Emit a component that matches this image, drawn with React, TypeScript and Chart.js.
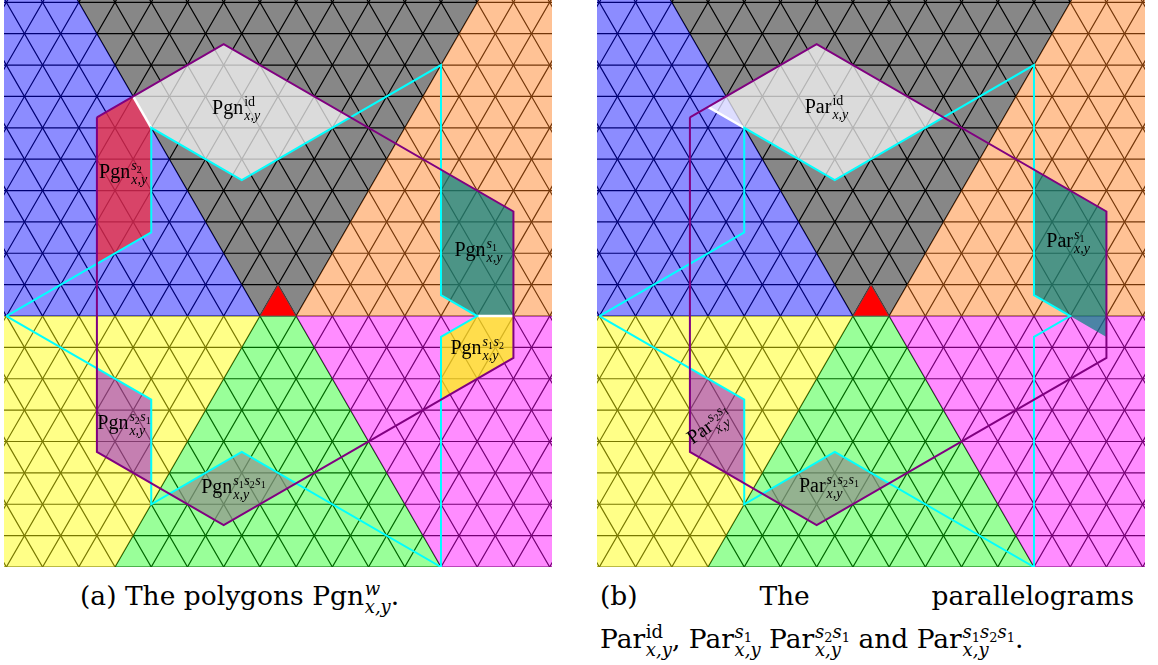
import React, { useEffect, useRef } from "react";
import { Chart, registerables } from "chart.js";

Chart.register(...registerables);

type P = [number, number];

// Coordinates: x in triangle-edge units, y in lattice-row units, origin = centre of the base of the red alcove.
const X_HALF = 7.565;
const Y_MIN = -8.0;
const Y_MAX = 10.073;

// horizontal lattice rows
const latticeRows: number[] = [-8, -7, -6, -5, -4, -3, -2, -1, 0, 1, 2, 3, 4, 5, 6, 7, 8, 9, 10];
// odd offsets c of the slanted lattice lines y = ±2x + c
const diagOffsets: number[] = [];
for (let c = -27; c <= 27; c += 2) diagOffsets.push(c);

// Weyl chambers (sectors)
const sectorGray: P[] = [[-0.5, 0], [0.5, 0], [6, 11], [-6, 11]];
const sectorBlue: P[] = [[-0.5, 0], [-6, 11], [-9, 11], [-9, 0]];
const sectorOrange: P[] = [[0.5, 0], [9, 0], [9, 11], [6, 11]];
const sectorGreen: P[] = [[-0.5, 0], [0.5, 0], [5, -9], [-5, -9]];
const sectorYellow: P[] = [[-9, 0], [-0.5, 0], [-5, -9], [-9, -9]];
const sectorMagenta: P[] = [[0.5, 0], [9, 0], [9, -9], [5, -9]];
const alcove: P[] = [[-0.5, 0], [0.5, 0], [0, 1]];

// cyan and purple paths (same in both panels)
const cyanPath: P[] = [
  [-7.5, 0], [-3.5, 2.667], [-3.5, 6], [-1, 4.333], [4.5, 8], [4.5, 0.667], [5.5, 0],
  [4.5, -0.667], [4.5, -8], [-1, -4.333], [-3.5, -6], [-3.5, -2.667], [-7.5, 0],
];
const purplePath: P[] = [
  [-5, 6.333], [-1.5, 8.667], [6.5, 3.333], [6.5, -1.333], [-1.5, -6.667], [-5, -4.333], [-5, 6.333],
];

// panel (a): polygons Pgn^w
const pgnId: P[] = [[-4, 7], [-1.5, 8.667], [2, 6.333], [-1, 4.333], [-3.5, 6]];
const pgnS2: P[] = [[-5, 6.333], [-4, 7], [-3.5, 6], [-3.5, 2.667], [-5, 1.667]];
const pgnS1: P[] = [[4.5, 4.667], [6.5, 3.333], [6.5, 0], [5.5, 0], [4.5, 0.667]];
const pgnS1S2: P[] = [[5.5, 0], [6.5, 0], [6.5, -1.333], [4.5, -2.667], [4.5, -0.667]];
const pgnS2S1: P[] = [[-5, -1.667], [-3.5, -2.667], [-3.5, -5.333], [-5, -4.333]];
const pgnS1S2S1: P[] = [[-3, -5.667], [-1, -4.333], [0.5, -5.333], [-1.5, -6.667]];
const whiteA1: P[] = [[-4, 7], [-3.5, 6]];
const whiteA2: P[] = [[5.5, 0], [6.5, 0]];

// panel (b): parallelograms Par^w
const parId: P[] = [[-4.5, 6.667], [-1.5, 8.667], [2, 6.333], [-1, 4.333]];
const parS1: P[] = [[4.5, 4.667], [6.5, 3.333], [6.5, -0.667], [4.5, 0.667]];
const parS2S1: P[] = [[-5, -1.667], [-3.5, -2.667], [-3.5, -5.333], [-5, -4.333]];
const parS1S2S1: P[] = [[-3, -5.667], [-1, -4.333], [0.5, -5.333], [-1.5, -6.667]];
const whiteB1: P[] = [[-4.5, 6.667], [-3.5, 6]];

type Label = { at: P; base: string; sup: string; rot?: number };
const labelsA: Label[] = [
  { at: [-1.82, 6.45], base: "Pgn", sup: "id" },
  { at: [-4.94, 4.39], base: "Pgn", sup: "s2" },
  { at: [4.87, 1.91], base: "Pgn", sup: "s1" },
  { at: [4.76, -1.21], base: "Pgn", sup: "s1s2" },
  { at: [-4.99, -3.61], base: "Pgn", sup: "s2s1" },
  { at: [-2.12, -5.63], base: "Pgn", sup: "s1s2s1" },
];
const labelsB: Label[] = [
  { at: [-1.83, 6.46], base: "Par", sup: "id" },
  { at: [4.84, 2.21], base: "Par", sup: "s1" },
  { at: [-4.93, -4.1], base: "Par", sup: "s2s1", rot: -35 },
  { at: [-1.99, -5.6], base: "Par", sup: "s1s2s1" },
];

const SERIF = '"Liberation Serif", "DejaVu Serif", serif';
const CAPSERIF = '"DejaVu Serif", "Liberation Serif", serif';

const toXY = (a: P[]) => a.map(([x, y]) => ({ x, y }));

function strokeDs(a: P[], color: string, width: number) {
  return {
    data: toXY(a),
    borderColor: color,
    borderWidth: width,
    backgroundColor: "rgba(0,0,0,0)",
    fill: false,
    pointRadius: 0,
    tension: 0,
    borderJoinStyle: "miter",
    borderCapStyle: "butt",
  };
}

function polyDs(a: P[], color: string, border = "rgba(0,0,0,0)", bw = 0) {
  return {
    data: toXY([...a, a[0]]),
    borderColor: border,
    borderWidth: bw,
    backgroundColor: color,
    fill: "shape",
    pointRadius: 0,
    tension: 0,
  };
}

function latticeSets() {
  const h: any[] = [];
  for (const k of latticeRows) h.push({ x: -9, y: k }, { x: 9, y: k }, { x: null, y: null });
  const p: any[] = [];
  const m: any[] = [];
  for (const c of diagOffsets) {
    p.push({ x: (-9 - c) / 2, y: -9 }, { x: (11 - c) / 2, y: 11 }, { x: null, y: null });
    m.push({ x: (c + 9) / 2, y: -9 }, { x: (c - 11) / 2, y: 11 }, { x: null, y: null });
  }
  const mk = (d: any[]) => ({
    data: d,
    borderColor: "#000",
    borderWidth: 1.2,
    fill: false,
    pointRadius: 0,
    spanGaps: false,
    tension: 0,
  });
  return [mk(h), mk(p), mk(m)];
}

function baseSets() {
  return [
    ...latticeSets(),
    polyDs(sectorGray, "rgba(0,0,0,0.47)"),
    polyDs(sectorBlue, "rgba(0,0,255,0.45)"),
    polyDs(sectorOrange, "rgba(255,120,20,0.45)"),
    polyDs(sectorGreen, "rgba(0,255,0,0.4)"),
    polyDs(sectorYellow, "rgba(255,255,0,0.47)"),
    polyDs(sectorMagenta, "rgba(255,0,255,0.45)"),
    polyDs(alcove, "#ff0000", "rgba(90,90,90,0.8)", 1),
  ];
}

function drawMath(ctx: CanvasRenderingContext2D, px: number, py: number, L: Label) {
  ctx.save();
  ctx.translate(px, py);
  ctx.rotate(((L.rot || 0) * Math.PI) / 180);
  ctx.fillStyle = "#000";
  ctx.textAlign = "left";
  ctx.textBaseline = "alphabetic";
  ctx.font = `20px ${SERIF}`;
  ctx.fillText(L.base, 0, 0);
  const x0 = ctx.measureText(L.base).width + 1;
  let x = x0;
  const supY = -8;
  if (L.sup === "id") {
    ctx.font = `14px ${SERIF}`;
    ctx.fillText("id", x, supY);
  } else {
    const parts = L.sup.match(/s\d/g) || [];
    for (const part of parts) {
      ctx.font = `italic 14px ${SERIF}`;
      ctx.fillText("s", x, supY);
      x += ctx.measureText("s").width;
      ctx.font = `10px ${SERIF}`;
      ctx.fillText(part[1], x, supY + 3);
      x += ctx.measureText(part[1]).width + 0.5;
    }
  }
  ctx.font = `italic 14px ${SERIF}`;
  ctx.fillText("x,y", x0, 6);
  ctx.restore();
}

function Panel({ left, sets, labels }: { left: number; sets: any[]; labels: Label[] }) {
  const ref = useRef<HTMLCanvasElement | null>(null);
  useEffect(() => {
    if (!ref.current) return;
    const labelPlugin = {
      id: "mathLabels",
      afterDatasetsDraw(chart: any) {
        const { ctx, scales } = chart;
        for (const L of labels) {
          drawMath(ctx, scales.x.getPixelForValue(L.at[0]), scales.y.getPixelForValue(L.at[1]), L);
        }
      },
    };
    const chart = new Chart(ref.current, {
      type: "line",
      data: { datasets: [...sets].reverse() as any },
      options: {
        responsive: false,
        animation: false,
        devicePixelRatio: 1,
        events: [],
        layout: { padding: 0 },
        plugins: { legend: { display: false }, tooltip: { enabled: false } },
        scales: {
          x: { type: "linear", min: -X_HALF, max: X_HALF, display: false, bounds: "data" },
          y: { type: "linear", min: Y_MIN, max: Y_MAX, display: false, bounds: "data" },
        },
      } as any,
      plugins: [labelPlugin],
    });
    return () => chart.destroy();
  }, []);
  return (
    <canvas
      ref={ref}
      width={548}
      height={567}
      style={{ position: "absolute", left, top: 0, width: 548, height: 567 }}
    />
  );
}

function S({ d }: { d: string }) {
  return (
    <>
      <i>s</i>
      <span style={{ fontSize: "0.72em", position: "relative", top: "0.3em" }}>{d}</span>
    </>
  );
}

function M({ base, sup }: { base: string; sup: React.ReactNode }) {
  return (
    <span style={{ whiteSpace: "nowrap" }}>
      {base}
      <span
        style={{
          display: "inline-flex",
          flexDirection: "column",
          fontSize: "0.68em",
          lineHeight: 1,
          verticalAlign: "0.55em",
          marginLeft: "0.04em",
          marginTop: "-1em",
          marginBottom: "-1em",
        }}
      >
        <span>{sup}</span>
        <span style={{ fontStyle: "italic" }}>x,y</span>
      </span>
    </span>
  );
}

export default function App() {
  const setsA = [
    ...baseSets(),
    polyDs(pgnId, "rgba(255,255,255,0.7)"),
    polyDs(pgnS2, "rgba(241,44,54,0.75)"),
    polyDs(pgnS1, "rgba(0,128,128,0.7)"),
    polyDs(pgnS1S2, "rgba(255,255,0,0.7)"),
    polyDs(pgnS2S1, "rgba(140,0,220,0.5)"),
    polyDs(pgnS1S2S1, "rgba(145,145,140,0.7)"),
    strokeDs(whiteA1, "#ffffff", 2.5),
    strokeDs(whiteA2, "#ffffff", 2.5),
    strokeDs(cyanPath, "#00ffff", 2),
    strokeDs(purplePath, "#800080", 2),
  ];
  const setsB = [
    ...baseSets(),
    polyDs(parId, "rgba(255,255,255,0.7)"),
    polyDs(parS1, "rgba(0,128,128,0.7)"),
    polyDs(parS2S1, "rgba(140,0,220,0.5)"),
    polyDs(parS1S2S1, "rgba(145,145,140,0.7)"),
    strokeDs(whiteB1, "#ffffff", 2.5),
    strokeDs(cyanPath, "#00ffff", 2),
    strokeDs(purplePath, "#800080", 2),
  ];
  const cap: React.CSSProperties = {
    position: "absolute",
    fontFamily: CAPSERIF,
    fontSize: 26.5,
    lineHeight: "26px",
    whiteSpace: "nowrap",
    color: "#000",
  };
  return (
    <div style={{ position: "absolute", left: 0, top: 0, width: 1158, height: 665, background: "#fff", overflow: "hidden" }}>
      <Panel left={4.4} sets={setsA} labels={labelsA} />
      <Panel left={597} sets={setsB} labels={labelsB} />
      <div style={{ ...cap, left: 80, top: 583 }}>
        (a) The polygons <M base="Pgn" sup={<i>w</i>} />.
      </div>
      <div style={{ ...cap, left: 600, top: 583, width: 534, display: "flex", justifyContent: "space-between" }}>
        <span>(b)</span>
        <span>The</span>
        <span>parallelograms</span>
      </div>
      <div style={{ ...cap, left: 600, top: 626 }}>
        <M base="Par" sup="id" />, <M base="Par" sup={<S d="1" />} /> <M base="Par" sup={<><S d="2" /><S d="1" /></>} /> and{" "}
        <M base="Par" sup={<><S d="1" /><S d="2" /><S d="1" /></>} />.
      </div>
    </div>
  );
}
